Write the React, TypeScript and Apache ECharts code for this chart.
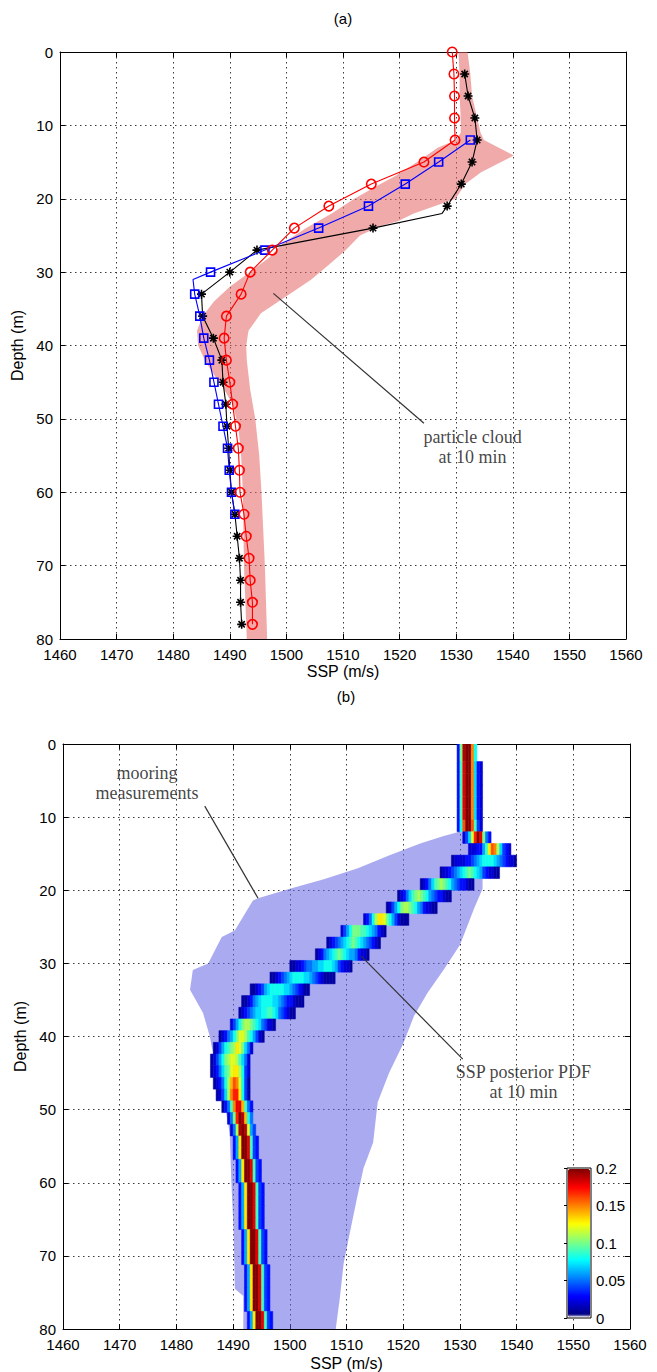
import React, { useEffect, useRef } from "react";
import * as echarts from "echarts";

// ---------- axis ranges / ticks ----------
const SSP_MIN = 1460;
const SSP_MAX = 1560;
const SSP_STEP = 10;
const DEPTH_MIN = 0;
const DEPTH_MAX = 80;
const DEPTH_STEP = 10;
const PDF_MIN = 0;
const PDF_MAX = 0.2;
const PDF_STEP = 0.05;

// ---------- panel (a) ----------
const redDepth = [0, 3, 6, 9, 12, 15, 18, 21, 24, 27, 30, 33, 36, 39, 42, 45, 48, 51, 54, 57, 60, 63, 66, 69, 72, 75, 78];
const redSSP = [1529.3, 1529.6, 1529.7, 1529.7, 1529.8, 1524.3, 1515.0, 1507.5, 1501.4, 1497.5, 1493.6, 1492.0, 1489.4, 1489.0, 1489.4, 1490.0, 1490.5, 1491.0, 1491.5, 1491.7, 1491.8, 1492.5, 1492.9, 1493.4, 1493.6, 1494.0, 1494.0];

const blackDepth = [3, 6, 9, 12, 15, 18, 21, 22, 24, 27, 30, 33, 36, 39, 42, 45, 48, 51, 54, 57, 60, 63, 66, 69, 72, 75, 78];
const blackSSP = [1531.5, 1532.1, 1533.3, 1533.7, 1532.8, 1530.9, 1528.4, 1527.5, 1515.3, 1494.8, 1490.0, 1485.0, 1485.2, 1487.1, 1488.6, 1488.8, 1489.3, 1489.5, 1489.8, 1490.0, 1490.3, 1490.9, 1491.3, 1491.7, 1491.9, 1491.9, 1492.1];
const blackUnmarked = [22];

const blueDepth = [12, 15, 18, 21, 24, 27, 30, 31, 33, 36, 39, 42, 45, 48, 51, 54, 57, 60, 63];
const blueSSP = [1532.5, 1526.9, 1521.0, 1514.5, 1505.7, 1496.2, 1486.6, 1483.5, 1483.8, 1484.7, 1485.4, 1486.4, 1487.2, 1488.0, 1488.8, 1489.6, 1489.9, 1490.3, 1490.9];
const blueUnmarked = [31];

// particle cloud envelope: [SSP, depth]
const cloudLeft = [
  [1530.4, 0], [1530.6, 3], [1530.6, 6], [1530.8, 9], [1530.8, 11], [1530.0, 12], [1526.8, 13], [1523.1, 15],
  [1519.0, 17], [1516.6, 18], [1512.0, 20], [1508.0, 22], [1503.5, 24], [1499.5, 26], [1497.0, 28], [1493.5, 30],
  [1490.0, 32], [1487.2, 34], [1485.2, 36], [1484.2, 38], [1484.4, 40], [1485.6, 42], [1487.2, 44], [1489.0, 46],
  [1490.5, 48], [1491.5, 51], [1492.0, 55], [1492.3, 60], [1492.5, 70], [1493.0, 80],
];
const cloudRight = [
  [1532.0, 0], [1532.5, 3], [1532.8, 6], [1533.7, 9], [1534.3, 11], [1534.9, 12], [1540.2, 14.1], [1534.4, 16.4],
  [1531.6, 18], [1529.9, 20], [1522.5, 22], [1519.6, 23.1], [1516.6, 23.7], [1513.0, 25], [1510.5, 27], [1507.5, 29],
  [1504.4, 31], [1500.0, 33.3], [1495.5, 35.6], [1493.3, 38], [1492.9, 40], [1493.0, 42], [1493.6, 46], [1494.5, 50],
  [1495.2, 55], [1495.6, 60], [1496.2, 70], [1496.6, 80],
];

// ---------- panel (b) ----------
const mooringEnvelope = [
  [1494.4, 21.1], [1500.0, 19.8], [1506.0, 18.5], [1512.0, 17.0], [1517.6, 15.2], [1523.0, 13.6], [1527.0, 12.6],
  [1529.9, 12.0], [1532.0, 12.3], [1533.3, 14.0], [1534.0, 17.0], [1534.0, 19.8], [1532.5, 22.5], [1531.5, 24.5],
  [1530.0, 27.5], [1527.2, 30.8], [1524.3, 34.0], [1521.9, 37.2], [1520.0, 41.0], [1517.5, 45.0], [1515.5, 49.0],
  [1514.7, 54.5], [1513.0, 58.0], [1511.8, 62.3], [1510.6, 66.8], [1509.5, 71.0], [1508.8, 75.9], [1508.1, 80.0],
  [1491.8, 80.0], [1491.8, 75.5], [1490.3, 74.5], [1490.1, 66.8], [1489.7, 60.0], [1489.4, 53.2], [1488.0, 47.0],
  [1486.2, 41.3], [1485.9, 40.0], [1484.7, 36.8], [1482.4, 33.6], [1482.9, 30.9], [1485.6, 30.0], [1488.0, 26.4],
  [1490.3, 25.5], [1493.5, 21.4],
];

// posterior PDF: one row per depth bin (centre = PDF_ROW_STEP * k); [first SSP bin, probabilities x100 in 0.5 m/s bins]
const PDF_ROW_STEP = 1.6;
const PDF_BIN = 0.5;
const deep = [3, 6, 13, 21, 23, 18, 9, 4, 3];
const pdfRows: [number, number[]][] = [
  [1529.5, [3, 10, 19, 23, 22, 15, 8]],
  [1529.5, [3, 10, 19, 23, 22, 15, 8]],
  [1529.5, [3, 9, 18, 22, 21, 15, 7, 3, 2]],
  [1529.5, [3, 9, 18, 22, 21, 15, 7, 3, 2]],
  [1529.5, [3, 9, 18, 22, 21, 15, 7, 3, 2]],
  [1529.5, [3, 9, 18, 22, 21, 15, 7, 3, 2]],
  [1529.5, [3, 9, 18, 22, 21, 15, 7, 3, 2]],
  [1529.5, [3, 8, 16, 21, 21, 16, 9, 4, 2]],
  [1530.5, [2, 4, 7, 12, 17, 20, 18, 10, 5, 3]],
  [1531.5, [2, 2, 2, 3, 3, 6, 9, 13, 16, 15, 11, 7, 4, 3, 2]],
  [1528.5, [1, 2, 2, 2, 2, 3, 3, 4, 5, 6, 7, 8, 8, 8, 8, 7, 6, 5, 4, 3, 2, 2, 1]],
  [1526.5, [1, 2, 2, 3, 4, 5, 6, 7, 8, 9, 10, 9, 8, 7, 6, 4, 3, 2, 2, 1, 1]],
  [1523.0, [1, 2, 3, 5, 7, 9, 10, 11, 10, 9, 8, 6, 5, 4, 3, 3, 2, 1, 1]],
  [1519.0, [1, 2, 3, 5, 7, 9, 10, 11, 10, 9, 8, 6, 5, 4, 3, 3, 2, 1, 1]],
  [1517.0, [1, 2, 4, 6, 8, 10, 11, 11, 10, 9, 8, 6, 5, 3, 2, 2, 1, 1]],
  [1513.0, [2, 3, 5, 8, 11, 13, 13, 12, 10, 8, 6, 4, 2, 1, 1, 1]],
  [1509.0, [2, 4, 6, 8, 10, 10, 10, 9, 9, 8, 7, 6, 5, 3, 2, 1]],
  [1506.5, [1, 2, 3, 4, 5, 6, 7, 8, 9, 10, 9, 8, 7, 6, 5, 4, 3, 2, 1]],
  [1504.5, [1, 2, 3, 5, 6, 7, 8, 9, 10, 9, 8, 7, 6, 6, 5, 3, 2, 2, 1]],
  [1500.0, [1, 1, 2, 2, 3, 4, 5, 5, 6, 6, 7, 7, 8, 8, 8, 7, 6, 4, 3, 2, 2, 1]],
  [1496.5, [1, 1, 2, 3, 4, 5, 6, 7, 8, 8, 8, 8, 7, 7, 6, 5, 4, 3, 2, 1, 1, 1, 1]],
  [1493.0, [1, 1, 2, 3, 4, 6, 7, 8, 8, 8, 8, 8, 7, 7, 6, 5, 4, 3, 2, 1, 1]],
  [1491.5, [1, 1, 2, 3, 5, 6, 7, 8, 8, 8, 8, 7, 7, 6, 5, 4, 3, 3, 2, 1, 1, 1]],
  [1491.0, [1, 2, 3, 4, 5, 6, 7, 7, 8, 8, 9, 9, 8, 7, 5, 4, 3, 2, 1, 1]],
  [1489.5, [2, 4, 6, 8, 10, 11, 11, 10, 9, 8, 7, 5, 4, 2, 2, 1]],
  [1487.5, [1, 2, 3, 5, 6, 8, 10, 12, 12, 11, 9, 8, 6, 4, 2, 1]],
  [1486.5, [1, 2, 4, 6, 8, 9, 10, 11, 13, 12, 10, 7, 5, 2]],
  [1486.0, [1, 2, 4, 6, 8, 10, 11, 12, 12, 11, 9, 7, 5, 2]],
  [1486.0, [1, 2, 3, 5, 7, 9, 10, 12, 13, 13, 11, 8, 4, 2]],
  [1486.5, [1, 2, 3, 5, 8, 11, 14, 16, 15, 12, 8, 4, 1]],
  [1487.0, [1, 2, 4, 7, 11, 15, 17, 17, 13, 8, 4, 1]],
  [1488.0, [1, 3, 5, 9, 15, 18, 18, 14, 9, 5, 3]],
  [1489.0, [2, 5, 10, 17, 20, 19, 14, 8, 5]],
  [1489.5, [2, 5, 11, 19, 22, 19, 12, 6, 4]],
  [1490.0, deep], [1490.0, deep], [1490.5, deep], [1490.5, deep],
  [1491.0, deep], [1491.0, deep], [1491.0, deep], [1491.0, deep],
  [1491.5, deep], [1491.5, deep], [1491.5, deep],
  [1492.0, deep], [1492.0, deep], [1492.0, deep], [1492.0, deep],
  [1492.5, deep], [1492.5, deep],
];

// ---------- annotations (data coordinates) ----------
const cloudLabel = { text: "particle cloud\nat 10 min", at: [1532.9, 53.8], tail: [1524.3, 50.6], tip: [1497.7, 32.9] };
const mooringLabel = { text: "mooring\nmeasurements", at: [1474.8, 5.3], tail: [1485.0, 8.5], tip: [1494.4, 21.1] };
const pdfLabel = { text: "SSP posterior PDF\nat 10 min", at: [1541.2, 46.2], tail: [1530.5, 43.1], tip: [1512.6, 29.0] };

const SANS = "'Liberation Sans', Arial, Helvetica, sans-serif";
const SERIF = "'Liberation Serif', 'Times New Roman', serif";

function jetColormap(n: number): string[] {
  const cl = (v: number) => Math.max(0, Math.min(1, v));
  const out: string[] = ["#ffffff"];
  for (let i = 0; i < n; i++) {
    const t = i / (n - 1);
    const r = cl(1.5 - Math.abs(4 * t - 3));
    const g = cl(1.5 - Math.abs(4 * t - 2));
    const b = cl(1.5 - Math.abs(4 * t - 1));
    out.push(`rgb(${Math.round(r * 255)},${Math.round(g * 255)},${Math.round(b * 255)})`);
  }
  return out;
}

const plain = (v: number) => String(v);

function mkAxes(gi: number, nameGapX: number) {
  const line = { show: true, onZero: false, lineStyle: { color: "#000", width: 1 } };
  const tick = { show: true, inside: true, length: 5, lineStyle: { color: "#000", width: 1 } };
  const grid = { show: true, lineStyle: { color: "#3a3a3a", type: [1.5, 3.5], width: 1 } };
  const lab = { show: true, color: "#000", fontSize: 15, fontFamily: SANS, formatter: plain, lineHeight: 13 };
  const xa = [
    {
      type: "value", gridIndex: gi, min: SSP_MIN, max: SSP_MAX, interval: SSP_STEP, position: "bottom",
      axisLine: line, axisTick: tick, splitLine: grid, axisLabel: { ...lab, margin: 9 },
      name: "SSP (m/s)", nameLocation: "middle", nameGap: nameGapX,
      nameTextStyle: { color: "#000", fontSize: 16, fontFamily: SANS },
    },
    {
      type: "value", gridIndex: gi, min: SSP_MIN, max: SSP_MAX, interval: SSP_STEP, position: "top",
      axisLine: line, axisTick: tick, splitLine: { show: false }, axisLabel: { show: false },
    },
  ];
  const ya = [
    {
      type: "value", gridIndex: gi, min: DEPTH_MIN, max: DEPTH_MAX, interval: DEPTH_STEP, inverse: true, position: "left",
      axisLine: line, axisTick: tick, splitLine: grid, axisLabel: { ...lab, margin: 7 },
      name: "Depth (m)", nameLocation: "middle", nameGap: 32, nameRotate: 90,
      nameTextStyle: { color: "#000", fontSize: 16, fontFamily: SANS },
    },
    {
      type: "value", gridIndex: gi, min: DEPTH_MIN, max: DEPTH_MAX, interval: DEPTH_STEP, inverse: true, position: "right",
      axisLine: line, axisTick: tick, splitLine: { show: false }, axisLabel: { show: false },
    },
  ];
  return { xa, ya };
}

function polygonSeries(pts: number[][], xi: number, yi: number, fill: string, z: number) {
  return {
    type: "custom", coordinateSystem: "cartesian2d", xAxisIndex: xi, yAxisIndex: yi,
    data: pts, encode: { x: 0, y: 1 }, z, silent: true, clip: true,
    renderItem: (params: any, api: any) => {
      if (params.dataIndex !== 0) return null;
      const points = pts.map((p) => api.coord(p));
      return { type: "polygon", shape: { points }, style: { fill, stroke: "none" } };
    },
  };
}

function markedLine(depths: number[], ssp: number[], unmarked: number[]) {
  return depths.map((d, i) =>
    unmarked.includes(d) ? { value: [ssp[i], d], symbol: "none" } : { value: [ssp[i], d] }
  );
}

function annotationSeries(a: any, xi: number, yi: number) {
  return {
    type: "scatter", xAxisIndex: xi, yAxisIndex: yi, z: 20, silent: true,
    symbolSize: 0, data: [a.at],
    label: {
      show: true, position: "inside", formatter: a.text, color: "#111",
      fontFamily: SERIF, fontSize: 18, lineHeight: 20, align: "center", verticalAlign: "middle",
    },
    markLine: {
      silent: true, symbol: ["none", "arrow"], symbolSize: [0, 11],
      lineStyle: { color: "#333", width: 1.2, type: "solid" }, label: { show: false },
      data: [[{ coord: a.tail }, { coord: a.tip }]],
    },
  };
}

const STAR = "path://M0,-5L0,5M-5,0L5,0M-3.5,-3.5L3.5,3.5M-3.5,3.5L3.5,-3.5";

export default function App() {
  const ref = useRef<HTMLDivElement>(null);

  useEffect(() => {
    document.body.style.margin = "0";
    if (!ref.current) return;
    const chart = echarts.init(ref.current, undefined, { renderer: "svg" });

    const A = mkAxes(0, 24);
    const B = mkAxes(1, 26);

    const pdfData: number[][] = [];
    pdfRows.forEach(([x0, vals], k) => {
      const c = PDF_ROW_STEP * k;
      const d0 = Math.max(DEPTH_MIN, c - PDF_ROW_STEP / 2);
      const d1 = Math.min(DEPTH_MAX, c + PDF_ROW_STEP / 2);
      vals.forEach((v, j) => {
        pdfData.push([x0 + j * PDF_BIN, x0 + (j + 1) * PDF_BIN, d0, d1, v / 100]);
      });
    });

    const series: any[] = [
      // panel (a)
      polygonSeries([...cloudLeft, ...cloudRight.slice().reverse()], 0, 0, "rgba(228,100,100,0.55)", 1),
      {
        type: "line", xAxisIndex: 0, yAxisIndex: 0, z: 3, data: markedLine(blackDepth, blackSSP, blackUnmarked),
        symbol: STAR, symbolSize: 9,
        lineStyle: { color: "#000", width: 1.1 },
        itemStyle: { color: "#000", borderColor: "#000", borderWidth: 1.6 },
      },
      {
        type: "line", xAxisIndex: 0, yAxisIndex: 0, z: 4, data: markedLine(blueDepth, blueSSP, blueUnmarked),
        symbol: "rect", symbolSize: 8,
        lineStyle: { color: "#0000ff", width: 1.1 },
        itemStyle: { color: "rgba(0,0,0,0)", borderColor: "#0000ff", borderWidth: 1.6 },
      },
      {
        type: "line", xAxisIndex: 0, yAxisIndex: 0, z: 5, data: markedLine(redDepth, redSSP, []),
        symbol: "circle", symbolSize: 9.5,
        lineStyle: { color: "#ff0000", width: 1.1 },
        itemStyle: { color: "rgba(0,0,0,0)", borderColor: "#ff0000", borderWidth: 1.6 },
      },
      annotationSeries(cloudLabel, 0, 0),
      // panel (b)
      polygonSeries(mooringEnvelope, 2, 2, "rgba(100,100,230,0.55)", 1),
      {
        type: "custom", coordinateSystem: "cartesian2d", xAxisIndex: 2, yAxisIndex: 2, z: 2, silent: true, clip: true,
        data: pdfData, encode: { x: [0, 1], y: [2, 3] },
        renderItem: (params: any, api: any) => {
          const p0 = api.coord([api.value(0), api.value(2)]);
          const p1 = api.coord([api.value(1), api.value(3)]);
          const col = api.visual("color");
          return {
            type: "rect",
            shape: { x: p0[0], y: p0[1], width: p1[0] - p0[0], height: p1[1] - p0[1] },
            style: { fill: col, stroke: col, lineWidth: 0.5 },
          };
        },
      },
      annotationSeries(mooringLabel, 2, 2),
      annotationSeries(pdfLabel, 2, 2),
    ];

    const option: any = {
      animation: false,
      backgroundColor: "#fff",
      textStyle: { fontFamily: SANS },
      grid: [
        { left: 60, top: 52, width: 566, height: 587, show: false },
        { left: 63, top: 744, width: 567, height: 587, show: false },
        { left: 567, top: 1168, width: 24, height: 150, show: true, borderColor: "#000", borderWidth: 1, backgroundColor: "transparent" },
      ],
      xAxis: [
        ...A.xa, ...B.xa,
        { type: "value", gridIndex: 2, min: 0, max: 1, show: false },
      ],
      yAxis: [
        ...A.ya, ...B.ya,
        {
          type: "value", gridIndex: 2, min: PDF_MIN, max: PDF_MAX, interval: PDF_STEP, position: "right",
          axisLine: { show: false }, splitLine: { show: false },
          axisTick: { show: true, inside: true, length: 3, lineStyle: { color: "#000" } },
          axisLabel: { show: true, color: "#000", fontSize: 15, fontFamily: SANS, margin: 5, formatter: plain },
        },
      ],
      visualMap: [
        {
          type: "continuous", min: PDF_MIN, max: PDF_MAX, dimension: 4, seriesIndex: [6],
          inRange: { color: jetColormap(64) }, outOfRange: { color: ["#800000"] },
          left: 568, top: 1169, itemWidth: 22, itemHeight: 148, padding: 0,
          calculable: false, text: ["", ""], hoverLink: false, orient: "vertical", z: 1,
        },
      ],
      graphic: [
        { type: "text", x: 343, y: 18, style: { text: "(a)", font: `15px ${SANS}`, fill: "#000", textAlign: "center", textVerticalAlign: "middle" } },
        { type: "text", x: 346, y: 696, style: { text: "(b)", font: `15px ${SANS}`, fill: "#000", textAlign: "center", textVerticalAlign: "middle" } },
      ],
      series,
    };

    chart.setOption(option);
    return () => chart.dispose();
  }, []);

  return <div ref={ref} style={{ width: 657, height: 1372 }} />;
}
